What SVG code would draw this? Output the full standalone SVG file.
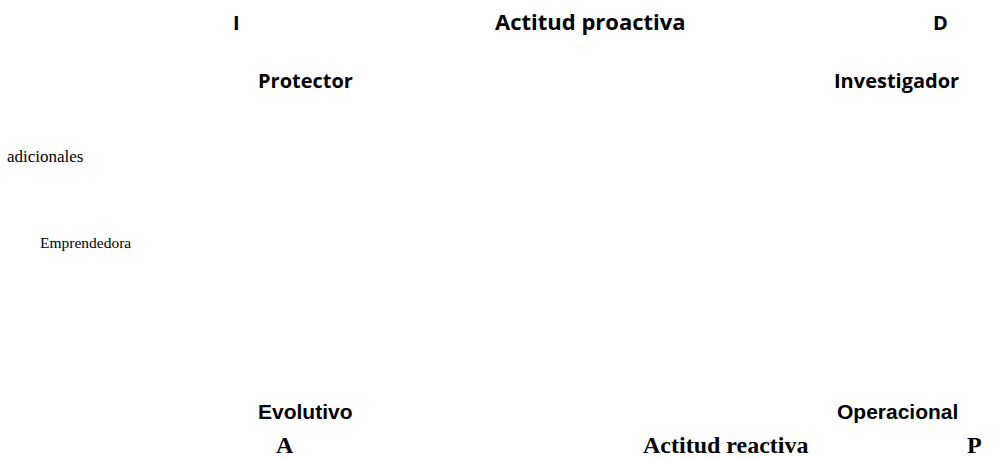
<svg xmlns="http://www.w3.org/2000/svg" width="1003" height="459" viewBox="0 0 1003 459">
<style>
.c{font-family:"Open Sans","Noto Sans",sans-serif;font-weight:bold;font-size:20px;fill:#000}
.big{font-size:22px}
.t{font-family:"Liberation Serif",serif;font-size:17px;fill:#000}
.a{font-family:"Liberation Sans",Arial,sans-serif;font-weight:bold;font-size:21px;fill:#000}
.tb{font-family:"Liberation Serif",serif;font-weight:bold;font-size:24px;fill:#000}
</style>
<rect width="1003" height="459" fill="#fff"/>
<g id="I"><text class="c" x="233" y="30">I</text></g>
<g id="proactiva"><text class="c big" x="495" y="30">Actitud proactiva</text></g>
<g id="D"><text class="c" x="933" y="30">D</text></g>
<g id="protector"><text class="c" x="258" y="88">Protector</text></g>
<g id="investigador"><text class="c" x="834" y="88">Investigador</text></g>
<g id="adicionales"><text class="t" x="7" y="162">adicionales</text></g>
<g id="emprendedora"><text class="t" x="40" y="248" style="font-size:15.5px">Emprendedora</text></g>
<g id="evolutivo"><text class="a" x="258" y="419">Evolutivo</text></g>
<g id="operacional"><text class="a" x="837" y="419">Operacional</text></g>
<g id="A"><text class="tb" x="276" y="453">A</text></g>
<g id="reactiva"><text class="tb" x="643" y="453">Actitud reactiva</text></g>
<g id="P"><text class="tb" x="967" y="453">P</text></g>
<g id="connectors"></g>
</svg>
